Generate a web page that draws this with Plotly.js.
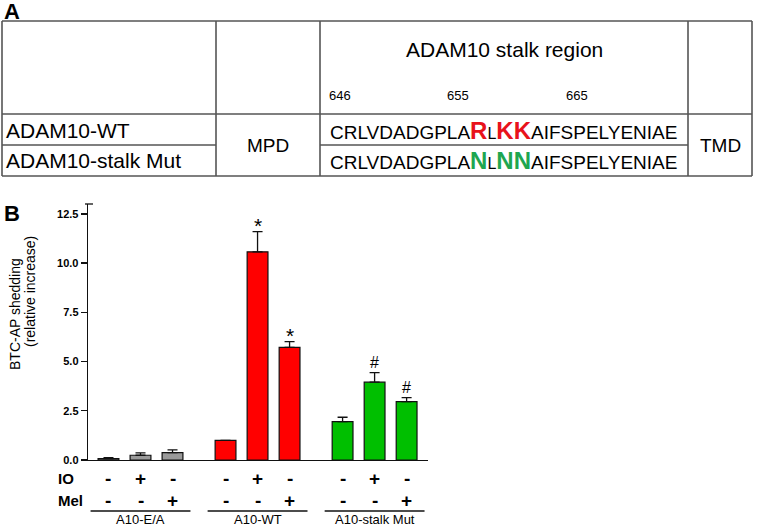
<!DOCTYPE html>
<html>
<head>
<meta charset="utf-8">
<script src="https://cdn.plot.ly/plotly-3.0.1.min.js"></script>
<style>html,body{margin:0;padding:0;background:#fff;}#chart{width:757px;height:527px;}</style>
</head>
<body>
<div id="chart"></div>
<script>
// ---------- data ----------
const groups = ["A10-E/A", "A10-WT", "A10-stalk Mut"];
const ioSigns = ["-", "+", "-"];
const melSigns = ["-", "-", "+"];
const eaMean = [0.07, 0.24, 0.37];
const eaSem = [0.05, 0.12, 0.14];
const wtMean = [1.0, 10.57, 5.72];
const wtSem = [0, 1.03, 0.29];
const mutMean = [1.95, 3.95, 2.96];
const mutSem = [0.22, 0.49, 0.21];
const wtMarks = ["", "*", "*"];
const mutMarks = ["", "#", "#"];
const yTickVals = [0, 2.5, 5, 7.5, 10, 12.5];
const yTickText = ["0.0", "2.5", "5.0", "7.5", "10.0", "12.5"];
const yTitleLines = ["BTC-AP shedding", "(relative increase)"];
const rowLabels = ["ADAM10-WT", "ADAM10-stalk Mut"];
const residueNums = ["646", "655", "665"];
const stalkHeader = "ADAM10 stalk region";
const seqStart = "CRLVDADGPLA";
const seqEnd = "AIFSPELYENIAE";
const wtSites = ["R", "L", "KK"];
const mutSites = ["N", "L", "NN"];
const domainLabels = ["MPD", "TMD"];

// ---------- helpers ----------
const W = 757, H = 527;
const px = x => x / W;
const py = y => 1 - y / H;
const FONT = "Liberation Sans, Arial, sans-serif";
const GAP = 3.656;
const barX = (g, i) => g * GAP + i;

const means = [eaMean, wtMean, mutMean];
const sems = [eaSem, wtSem, mutSem];
const colors = ["#9a9a9a", "#ff0000", "#00bf00"];

const traces = means.map((m, g) => ({
  type: "bar",
  x: m.map((_, i) => barX(g, i)),
  y: m,
  width: 0.65,
  marker: { color: colors[g], line: { color: "#111", width: 1.2 } },
  error_y: { type: "data", array: sems[g], arrayminus: sems[g].map(() => 0), symmetric: false,
             color: "#111", thickness: 1.3, width: 5, visible: true },
  hoverinfo: "none"
}));

const ann = [];
const shapes = [];
function txt(x, y, text, size, opts = {}) {
  ann.push(Object.assign({
    x: px(x), y: py(y), xref: "paper", yref: "paper", text: text, showarrow: false,
    font: { family: FONT, size: size, color: "#000" }, xanchor: "center", yanchor: "middle"
  }, opts));
}
function line(x0, y0, x1, y1, color, w) {
  shapes.push({ type: "line", xref: "paper", yref: "paper", x0: px(x0), y0: py(y0), x1: px(x1), y1: py(y1),
    line: { color: color, width: w } });
}

// ---------- panel A : table ----------
txt(2, 11, "<b>A</b>", 22, { xanchor: "left" });
const TL = 2, TR = 752, TT = 21, TB = 176;
const tc = "#555";
line(TL, TT, TR, TT, tc, 1.6);
line(TL, TB, TR, TB, tc, 1.6);
line(TL, TT, TL, TB, tc, 1.6);
line(TR, TT, TR, TB, tc, 1.6);
[216, 320, 688].forEach(x => line(x, TT, x, TB, tc, 1.6));
line(TL, 114, TR, 114, tc, 1.6);
line(TL, 145, 216, 145, tc, 1.6);
line(320, 145, 688, 145, tc, 1.6);

txt(504, 50, stalkHeader, 21);
[327, 445, 564].forEach((x, i) => txt(x, 95, residueNums[i], 13, { xanchor: "left" }));
txt(4, 130, rowLabels[0], 21, { xanchor: "left" });
txt(4, 160, rowLabels[1], 21, { xanchor: "left" });
txt(268, 145, domainLabels[0], 19);
txt(720, 145, domainLabels[1], 19);

function seq(sites, color) {
  const big = s => `<span style="color:${color};font-size:24px;font-weight:bold">${s}</span>`;
  const small = s => `<span style="font-size:16px">${s}</span>`;
  return seqStart + big(sites[0]) + small(sites[1]) + big(sites[2]) + seqEnd;
}
txt(503, 130, seq(wtSites, "#e8121b"), 19);
txt(503, 160, seq(mutSites, "#1ea650"), 19);

// ---------- panel B ----------
txt(2, 213, "<b>B</b>", 22, { xanchor: "left" });
txt(15, 314, yTitleLines[0], 14, { textangle: -90 });
txt(30, 292, yTitleLines[1], 14, { textangle: -90 });
// cap at top of y axis
line(85, 204, 93, 204, "#111", 1.3);

txt(56, 478, "<b>IO</b>", 15, { xanchor: "left" });
txt(56, 500, "<b>Mel</b>", 15, { xanchor: "left" });
groups.forEach((gname, g) => {
  for (let i = 0; i < 3; i++) {
    ann.push({ x: barX(g, i), y: py(478), xref: "x", yref: "paper", text: "<b>" + ioSigns[i] + "</b>",
      showarrow: false, font: { family: FONT, size: 19, color: "#000" }, xanchor: "center", yanchor: "middle" });
    ann.push({ x: barX(g, i), y: py(500), xref: "x", yref: "paper", text: "<b>" + melSigns[i] + "</b>",
      showarrow: false, font: { family: FONT, size: 19, color: "#000" }, xanchor: "center", yanchor: "middle" });
  }
  const c = barX(g, 1);
  shapes.push({ type: "line", xref: "x", yref: "paper", x0: c - 1.56, x1: c + 1.56, y0: py(511), y1: py(511),
    line: { color: "#111", width: 1.3 } });
  ann.push({ x: c, y: py(519), xref: "x", yref: "paper", text: gname, showarrow: false,
    font: { family: FONT, size: 13, color: "#000" }, xanchor: "center", yanchor: "middle" });
});
const markSets = [[null, null, null], wtMarks, mutMarks];
markSets.forEach((marks, g) => {
  marks.forEach((mk, i) => {
    if (!mk) return;
    const top = means[g][i] + sems[g][i];
    ann.push({ x: barX(g, i), y: top, xref: "x", yref: "y", text: mk, showarrow: false,
      font: { family: FONT, size: mk === "*" ? 21 : 16, color: "#000" }, xanchor: "center", yanchor: "bottom",
      yshift: mk === "*" ? -7 : 0 });
  });
});

const layout = {
  width: W, height: H,
  margin: { l: 0, r: 0, t: 0, b: 0 },
  paper_bgcolor: "#fff", plot_bgcolor: "#fff",
  showlegend: false,
  barmode: "overlay",
  xaxis: {
    domain: [px(88), px(428)], range: [-0.64, 9.98], showticklabels: false, ticks: "",
    showgrid: false, zeroline: false, showline: true, linecolor: "#111", linewidth: 1.3, fixedrange: true
  },
  yaxis: {
    domain: [py(460), py(204)], range: [0, 13], tickvals: yTickVals, ticktext: yTickText,
    ticks: "outside", ticklen: 6, tickwidth: 1.3, tickcolor: "#111",
    tickfont: { family: FONT, size: 11, color: "#000", weight: "bold" },
    showgrid: false, zeroline: false, showline: true, linecolor: "#111", linewidth: 1.3, fixedrange: true
  },
  annotations: ann,
  shapes: shapes
};

Plotly.newPlot("chart", traces, layout, { displayModeBar: false, staticPlot: true });
</script>
</body>
</html>
